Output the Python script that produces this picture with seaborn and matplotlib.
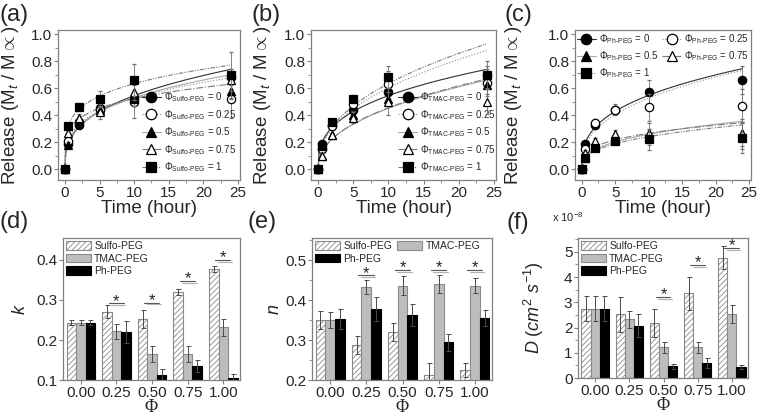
import numpy as np
import pandas as pd
import matplotlib
matplotlib.use("Agg")
import matplotlib.pyplot as plt
import seaborn as sns
from matplotlib.lines import Line2D
from matplotlib.patches import Patch
from matplotlib.ticker import MultipleLocator

sns.set_theme(style="ticks")
plt.rcParams['font.family'] = ['Liberation Sans', 'DejaVu Sans']
plt.rcParams['mathtext.fontset'] = 'custom'
plt.rcParams['mathtext.rm'] = 'Liberation Sans'
plt.rcParams['mathtext.it'] = 'Liberation Sans:italic'
plt.rcParams['mathtext.bf'] = 'Liberation Sans:bold'
plt.rcParams['hatch.color'] = '#8a8a8a'
plt.rcParams['hatch.linewidth'] = 0.6

# =========================
# data
# =========================
time_h = [0, 0.5, 2, 5, 10, 24]
phi_labels = ['0', '0.25', '0.5', '0.75', '1']
phi_ticks = ['0.00', '0.25', '0.50', '0.75', '1.00']
groups = ['Sulfo-PEG', 'TMAC-PEG', 'Ph-PEG']

# release curves, one list per phi (0, 0.25, 0.5, 0.75, 1)
sulfo_release = [[0, 0.19, 0.33, 0.45, 0.52, 0.68],
                 [0, 0.21, 0.35, 0.44, 0.50, 0.52],
                 [0, 0.18, 0.36, 0.44, 0.52, 0.58],
                 [0, 0.27, 0.38, 0.42, 0.57, 0.66],
                 [0, 0.32, 0.46, 0.52, 0.66, 0.70]]
sulfo_release_err = [[0, 0.02, 0.02, 0.04, 0.05, 0.06],
                     [0, 0.02, 0.03, 0.04, 0.12, 0.14],
                     [0, 0.02, 0.03, 0.03, 0.05, 0.06],
                     [0, 0.02, 0.03, 0.05, 0.06, 0.08],
                     [0, 0.02, 0.03, 0.06, 0.12, 0.17]]
tmac_release = [[0, 0.19, 0.33, 0.44, 0.57, 0.70],
                [0, 0.15, 0.32, 0.48, 0.63, 0.64],
                [0, 0.10, 0.25, 0.40, 0.52, 0.62],
                [0, 0.10, 0.25, 0.38, 0.50, 0.50],
                [0, 0.17, 0.35, 0.52, 0.68, 0.70]]
tmac_release_err = [[0, 0.02, 0.02, 0.03, 0.05, 0.06],
                    [0, 0.02, 0.03, 0.03, 0.10, 0.10],
                    [0, 0.02, 0.02, 0.03, 0.05, 0.06],
                    [0, 0.02, 0.02, 0.04, 0.10, 0.09],
                    [0, 0.02, 0.02, 0.03, 0.08, 0.10]]
ph_release = [[0, 0.19, 0.33, 0.44, 0.57, 0.66],
              [0, 0.15, 0.34, 0.44, 0.46, 0.47],
              [0, 0.08, 0.17, 0.22, 0.24, 0.25],
              [0, 0.12, 0.21, 0.26, 0.27, 0.27],
              [0, 0.08, 0.16, 0.21, 0.22, 0.23]]
ph_release_err = [[0, 0.02, 0.02, 0.03, 0.09, 0.10],
                  [0, 0.02, 0.03, 0.04, 0.10, 0.12],
                  [0, 0.02, 0.02, 0.03, 0.06, 0.10],
                  [0, 0.02, 0.02, 0.03, 0.07, 0.10],
                  [0, 0.02, 0.02, 0.03, 0.08, 0.11]]

# fitted parameters (Korsmeyer-Peppas M = k t^n)
k_sulfo = [0.243, 0.271, 0.253, 0.320, 0.377]
k_tmac = [0.243, 0.222, 0.165, 0.165, 0.232]
k_ph = [0.243, 0.220, 0.112, 0.135, 0.106]
k_sulfo_err = [0.006, 0.017, 0.022, 0.007, 0.007]
k_tmac_err = [0.006, 0.019, 0.019, 0.021, 0.021]
k_ph_err = [0.006, 0.027, 0.015, 0.015, 0.008]

n_sulfo = [0.350, 0.288, 0.320, 0.213, 0.225]
n_tmac = [0.350, 0.433, 0.436, 0.440, 0.436]
n_ph = [0.352, 0.378, 0.363, 0.294, 0.355]
n_sulfo_err = [0.022, 0.022, 0.023, 0.030, 0.018]
n_tmac_err = [0.020, 0.018, 0.023, 0.022, 0.018]
n_ph_err = [0.025, 0.030, 0.027, 0.022, 0.020]

# D in units of 1e-8 cm2/s
d_sulfo = [2.75, 2.52, 2.17, 3.35, 4.77]
d_tmac = [2.75, 2.33, 1.21, 1.22, 2.55]
d_ph = [2.75, 2.07, 0.47, 0.58, 0.45]
d_sulfo_err = [0.50, 0.70, 0.55, 0.65, 0.45]
d_tmac_err = [0.50, 0.33, 0.20, 0.22, 0.35]
d_ph_err = [0.50, 0.45, 0.10, 0.20, 0.08]

# significance marks: group index and height
k_sig_group = [1, 2, 3, 4]
k_sig_y = [0.287, 0.289, 0.343, 0.395]
n_sig_group = [1, 2, 3, 4]
n_sig_y = [0.457, 0.470, 0.470, 0.470]
d_sig_group = [2, 3, 4]
d_sig_y = [3.15, 4.40, 5.07]

# =========================
# styles
# =========================
W, H = 760, 418
fig = plt.figure(figsize=(W / 100, H / 100), dpi=100)
frame_col = '#808080'
markers = ['o', 'o', '^', '^', 's']
mfaces = ['black', 'white', 'black', 'white', 'black']
curve_cols = ['#303030', '#8c8c8c', '#a8a8a8', '#7a7a7a', '#7a7a7a']
curve_ls = ['-', ':', '-', '-.', (0, (4, 1.2, 1, 1.2, 1, 1.2))]
bar_face = ['white', '#bdbdbd', 'black']
bar_edge = ['#8a8a8a', '#8a8a8a', 'black']
bar_hatch = ['//////', None, None]


def px_axes(l, t, r, b):
    return fig.add_axes([l / W, 1 - b / H, (r - l) / W, (b - t) / H])


def style_frame(ax):
    for s in ax.spines.values():
        s.set_color(frame_col)
        s.set_linewidth(0.9)
    ax.tick_params(direction='out', length=3, width=0.8, color=frame_col,
                   labelsize=11, pad=1)
    ax.tick_params(which='minor', direction='out', length=2, width=0.6, color=frame_col)


def release_panel(ax, data, errs, k, n, name, letter, lab_x, leg_order, leg_kw):
    t_fit = np.linspace(0, 24, 200)
    for i in range(5):
        ax.plot(t_fit, k[i] * t_fit ** n[i], color=curve_cols[i], ls=curve_ls[i], lw=0.8, zorder=2)
    for i in range(5):
        ax.errorbar(time_h, data[i], yerr=errs[i], fmt=markers[i], mfc=mfaces[i], mec='black',
                    ms=6, mew=0.9, ecolor='#707070', elinewidth=0.6, capsize=1.5,
                    capthick=0.6, zorder=3 + i)
    ax.set_xlim(-1, 25.3)
    ax.set_ylim(-0.08, 1.03)
    ax.xaxis.set_major_locator(MultipleLocator(5))
    ax.yaxis.set_major_locator(MultipleLocator(0.2))
    ax.yaxis.set_minor_locator(MultipleLocator(0.1))
    ax.xaxis.set_minor_locator(MultipleLocator(2.5))
    ax.yaxis.set_major_formatter(matplotlib.ticker.FormatStrFormatter('%.1f'))
    style_frame(ax)
    ax.set_xlabel('Time (hour)', fontsize=13.5)
    ax.xaxis.set_label_coords(0.5, -0.135)
    ax.set_ylabel(r'Release (M$_t$ / M$\propto$)', fontsize=13.5)
    ax.yaxis.set_label_coords(lab_x, 0.5)
    handles = [Line2D([], [], color=curve_cols[i], ls=curve_ls[i], lw=0.8, marker=markers[i],
                      mfc=mfaces[i], mec='black', ms=7.5, mew=0.9) for i in range(5)]
    labels = [r'$\Phi_{\text{%s}}$ = %s' % (name, v) for v in phi_labels]
    handles = [handles[i] for i in leg_order]
    labels = [labels[i] for i in leg_order]
    ax.legend(handles, labels, frameon=False, fontsize=7, handlelength=2.0,
              handletextpad=0.25, borderpad=0, borderaxespad=0, **leg_kw)
    ax.text(-0.32 if letter != '(c)' else -0.4, 1.1, letter, transform=ax.transAxes,
            fontsize=17, ha='left', va='center')


def bar_panel(ax, vals, errs, ylim, ylabel, lab_x, sig_g, sig_y, letter, leg_kw, leg_order):
    rows = []
    for g, series in zip(groups, vals):
        for p, v in zip(phi_ticks, series):
            rows.append({'phi': p, 'group': g, 'value': v})
    df = pd.DataFrame(rows)
    sns.barplot(data=df, x='phi', y='value', hue='group', order=phi_ticks, hue_order=groups,
                palette=dict(zip(groups, bar_face)), errorbar=None, width=0.8, ax=ax,
                legend=False, saturation=1)
    bar_conts = list(ax.containers)
    for j, cont in enumerate(bar_conts):
        xs, hs = [], []
        for p in cont.patches:
            p.set_facecolor(bar_face[j])
            p.set_edgecolor(bar_edge[j])
            p.set_linewidth(0.8)
            if bar_hatch[j]:
                p.set_hatch(bar_hatch[j])
            xs.append(p.get_x() + p.get_width() / 2)
            hs.append(p.get_height())
        ax.errorbar(xs, hs, yerr=errs[j], fmt='none', ecolor='#4a4a4a', elinewidth=0.7,
                    capsize=1.8, capthick=0.7, zorder=5)
    ax.set_ylim(*ylim)
    ax.set_xlim(-0.5, 4.47)
    style_frame(ax)
    ax.set_xlabel('Φ', fontsize=13, family=['Liberation Serif', 'DejaVu Serif'])
    ax.xaxis.set_label_coords(0.5, -0.135)
    ax.set_ylabel(ylabel, fontsize=13)
    ax.yaxis.set_label_coords(lab_x, 0.5)
    dy = 0.012 * (ylim[1] - ylim[0])
    for g, y in zip(sig_g, sig_y):
        ax.plot([g - 0.22, g + 0.2], [y + dy, y + dy], color='#555555', lw=0.8, zorder=6)
        ax.plot([g - 0.15, g + 0.25], [y, y], color='#b0b0b0', lw=0.8, zorder=6)
        ax.text(g, y - 0.3 * dy, '*', ha='center', va='baseline', fontsize=12, zorder=7)
    handles = [Patch(facecolor=bar_face[j], edgecolor=bar_edge[j], hatch=bar_hatch[j], lw=0.8)
               for j in range(3)]
    handles = [handles[i] for i in leg_order]
    labels = [groups[i] for i in leg_order]
    ax.legend(handles, labels, frameon=False, fontsize=7.5, handlelength=2.4,
              handleheight=0.9, handletextpad=0.3, labelspacing=0.25, borderpad=0.2,
              borderaxespad=0.1, loc='upper left', **leg_kw)
    ax.text(-0.36 if letter != '(f)' else -0.42, 1.11, letter, transform=ax.transAxes,
            fontsize=17, ha='left', va='center')


# =========================
# top row: release profiles
# =========================
ax_a = px_axes(58, 30, 240, 180)
release_panel(ax_a, sulfo_release, sulfo_release_err, k_sulfo, n_sulfo, 'Sulfo-PEG', '(a)', -0.205,
              [0, 1, 2, 3, 4],
              dict(loc='lower left', bbox_to_anchor=(0.46, 0.04), labelspacing=0.38))
ax_b = px_axes(311, 30, 496, 180)
release_panel(ax_b, tmac_release, tmac_release_err, k_tmac, n_tmac, 'TMAC-PEG', '(b)', -0.205,
              [0, 1, 2, 3, 4],
              dict(loc='lower left', bbox_to_anchor=(0.47, 0.04), labelspacing=0.38))
ax_c = px_axes(575, 30, 751, 180)
release_panel(ax_c, ph_release, ph_release_err, k_ph, n_ph, 'Ph-PEG', '(c)', -0.29,
              [0, 2, 4, 1, 3],
              dict(loc='upper left', bbox_to_anchor=(0.01, 0.985), ncol=2, labelspacing=0.35,
                   columnspacing=0.4))

# =========================
# bottom row: k, n, D
# =========================
ax_d = px_axes(63, 238, 240, 380)
bar_panel(ax_d, [k_sulfo, k_tmac, k_ph], [k_sulfo_err, k_tmac_err, k_ph_err], (0.1, 0.455),
          r'$k$', -0.19, k_sig_group, k_sig_y, '(d)', {}, [0, 1, 2])
ax_d.yaxis.set_major_locator(MultipleLocator(0.1))
ax_d.yaxis.set_major_formatter(matplotlib.ticker.FormatStrFormatter('%.1f'))

ax_e = px_axes(312, 238, 492, 380)
bar_panel(ax_e, [n_sulfo, n_tmac, n_ph], [n_sulfo_err, n_tmac_err, n_ph_err], (0.2, 0.555),
          r'$n$', -0.16, n_sig_group, n_sig_y, '(e)', dict(ncol=2, columnspacing=0.5), [0, 2, 1])
ax_e.yaxis.set_major_locator(MultipleLocator(0.1))
ax_e.yaxis.set_minor_locator(MultipleLocator(0.05))
ax_e.yaxis.set_major_formatter(matplotlib.ticker.FormatStrFormatter('%.1f'))

ax_f = px_axes(578, 238, 748, 378)
bar_panel(ax_f, [d_sulfo, d_tmac, d_ph], [d_sulfo_err, d_tmac_err, d_ph_err], (0, 5.55),
          r'$D\ (cm^2\ s^{-1})$', -0.19, d_sig_group, d_sig_y, '(f)', {}, [0, 1, 2])
ax_f.yaxis.set_major_locator(MultipleLocator(1))
ax_f.yaxis.set_minor_locator(MultipleLocator(0.5))
fig.text(552 / W, 1 - 217 / H, r'x 10$^{-8}$', fontsize=8, ha='left', va='center')

fig.savefig('out.png', dpi=100)
